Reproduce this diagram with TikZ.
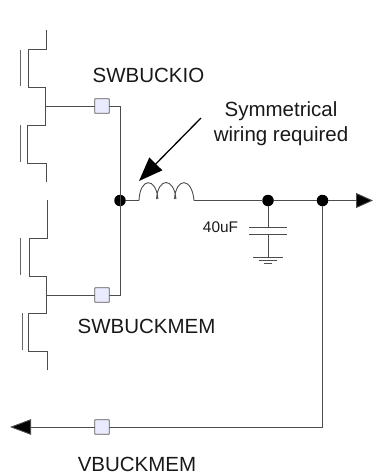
\documentclass[tikz,border=0pt]{standalone}
\usepackage{fontspec}
\setmainfont{Liberation Sans}
\usetikzlibrary{arrows.meta}
\tikzset{
  wire/.style={draw=black!70,line width=0.9pt},
  gatebar/.style={draw=black!60,line width=0.9pt},
  padbox/.style={draw=black!65,line width=0.9pt,fill=blue!8!white,minimum size=14.5pt,inner sep=0pt,rounded corners=0.5pt},
  dotnode/.style={circle,fill=black,minimum size=11.5pt,inner sep=0pt},
  lbl/.style={font=\fontsize{20.5pt}{24pt}\selectfont,inner sep=0pt,text=black!90},
  bigtip/.style={-{Triangle[length=17pt,width=15pt,fill=black]}},
  longtip/.style={-{Triangle[length=21pt,width=15.5pt,fill=black]}},
}
\begin{document}
\begin{tikzpicture}[x=1pt,y=-1pt]
\useasboundingbox (0,0) rectangle (373,474);
% junctions and pads
\node[dotnode] (j1) at (120,200.5) {};
\node[dotnode] (j2) at (268,200.5) {};
\node[dotnode] (j3) at (322.5,200.5) {};
\coordinate (t1) at (46,106);
\coordinate (t2) at (46,295);
\coordinate (corner1) at (120,106);
\coordinate (corner2) at (120,295);
\coordinate (corner3) at (322.5,427);
\coordinate (indL) at (139,200.5);
\coordinate (indR) at (194,200.5);
\coordinate (out) at (373,200.5);
\coordinate (in) at (10,427);
\coordinate (arrowS) at (201,118);
\coordinate (arrowE) at (139,181);
\coordinate (capT) at (268,227);
\coordinate (capB) at (268,234);
\coordinate (gnd) at (268,257);
% wires
\draw[wire] (t1) -- (corner1) -- (corner2) -- (t2);
\draw[wire] (j1) -- (indL);
\draw[wire] (indL) .. controls (140,177) and (156,177) .. (158,199)
  (156.5,199) .. controls (158,177) and (174,177) .. (176,199)
  (174.5,199) .. controls (176,177) and (192,177) .. (194,200.5);
\draw[wire] (indR) -- (j2) -- (j3);
\draw[wire,bigtip] (j3) -- (out);
\draw[wire] (j2) -- (capT);
\draw[wire] (capB) -- (gnd);
\draw[wire] (249,227) -- (287,227);
\draw[wire] (249,234) -- (287,234);
\draw[wire] (253,257) -- (283,257);
\draw[wire] (259,260) -- (277,260);
\draw[wire] (264,263) -- (272,263);
\draw[wire] (j3) -- (corner3);
\draw[wire,longtip] (corner3) -- (in);
\node[padbox] (p1) at (102,106) {};
\node[padbox] (p2) at (102,295) {};
\node[padbox] (p3) at (102,427) {};
% transistors
\draw[wire] (46,30) -- (46,49) -- (28,49) -- (28,87) -- (45,87) -- (45,125) -- (27,125) -- (27,163) -- (46,163) -- (46,182);
\draw[gatebar] (20,50) -- (20,86);
\draw[gatebar] (20.5,125) -- (20.5,162);
\draw[wire] (47,200) -- (47,238) -- (29,238) -- (29,276) -- (46,276) -- (46,313) -- (28,313) -- (28,351) -- (47,351) -- (47,370);
\draw[gatebar] (20.5,238) -- (20.5,275);
\draw[gatebar] (22,313) -- (22,350);
% callout arrow
\draw[draw=black,line width=1.3pt,-{Triangle[length=24pt,width=18pt,fill=black]}] (arrowS) -- (arrowE);
% labels
\node[lbl] (swio) at (148.5,75) {SWBUCKIO};
\node[lbl] (swmem) at (146.5,326) {SWBUCKMEM};
\node[lbl] (vmem) at (137,464) {VBUCKMEM};
\node[lbl] (sym) at (281,111) {Symmetrical};
\node[lbl] (wir) at (281,136) {wiring required};
\node[font=\fontsize{15.4pt}{18pt}\selectfont,inner sep=0pt,text=black!90] (cap) at (220.5,227) {40uF};
\end{tikzpicture}
\end{document}
